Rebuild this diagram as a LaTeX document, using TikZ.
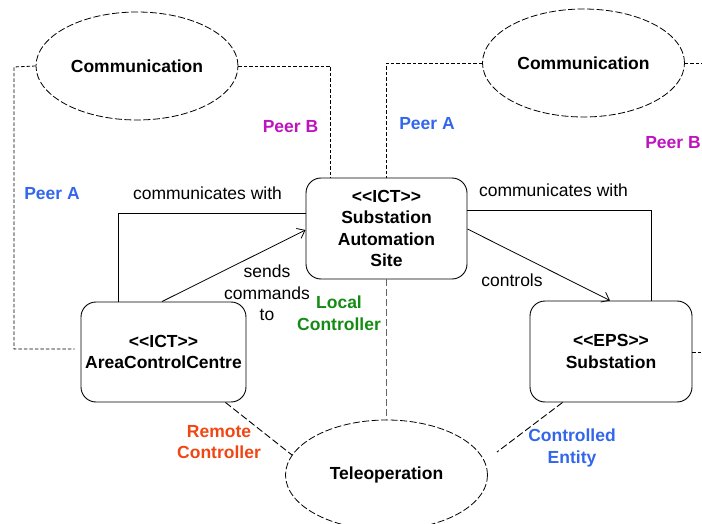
\documentclass[tikz,border=0pt]{standalone}
\usepackage{fontspec}
\setmainfont{Liberation Sans}
\usetikzlibrary{shapes.geometric,arrows.meta}
\definecolor{peerblue}{RGB}{51,102,235}
\definecolor{peermag}{RGB}{190,20,190}
\definecolor{localgreen}{RGB}{20,140,20}
\definecolor{remotered}{RGB}{240,70,20}
% stereotype brackets, kept apart so they are not joined into guillemets
\newcommand{\stereo}[1]{<\kern0pt<#1>\kern0pt>}
\tikzset{
  txt/.style={font=\fontsize{17.5}{21.5}\selectfont, inner sep=1pt, align=center},
  bold/.style={txt, font=\fontsize{17.5}{21.5}\selectfont\bfseries},
  classbox/.style={bold, draw, line width=0.9pt, rounded corners=15pt, inner sep=0pt},
  usecase/.style={bold, ellipse, draw, line width=0.8pt, dash pattern=on 7pt off 2.5pt,
    inner sep=0pt, minimum width=202pt, minimum height=108pt},
  peerlink/.style={line width=0.8pt, dash pattern=on 3.5pt off 2pt},
  rolelink/.style={line width=0.9pt, dash pattern=on 7pt off 3pt},
  assoc/.style={line width=0.8pt},
  tip/.style={-{Straight Barb[length=7pt,width=11pt]}},
}
\begin{document}
\begin{tikzpicture}[x=1pt,y=-1pt]
\useasboundingbox (0,0) rectangle (702,524);

% collaborations
\node[usecase] (comL) at (137,66) {Communication};
\node[usecase] (comR) at (583.5,63) {Communication};
\node[usecase, minimum height=110pt] (tele) at (386.5,475) {Teleoperation};

% classes
\node[classbox, minimum width=161pt, minimum height=101pt] (sas) at (386.5,228.5)
  {\stereo{ICT}\\Substation\\Automation\\Site};
\node[classbox, minimum width=165pt, minimum height=100pt] (acc) at (163.5,352)
  {\stereo{ICT}\\AreaControlCentre};
\node[classbox, minimum width=162pt, minimum height=101pt] (eps) at (611,351.5)
  {\stereo{EPS}\\Substation};

% associations
\draw[assoc] ([yshift=15.5pt]sas.west) -| ([xshift=-45.5pt]acc.north);
\draw[assoc, tip] ([xshift=-1.5pt]acc.north) -- ([yshift=-1.5pt]sas.west);
\draw[assoc] ([yshift=18.5pt]sas.east) -| ([xshift=40pt]eps.north);
\draw[assoc, tip] ([yshift=-0.5pt]sas.east) -- ([xshift=-1pt]eps.north);

\node[txt] (cwL) at (207.5,193) {communicates with};
\node[txt] (cwR) at (553.5,190) {communicates with};
\node[txt] (sends) at (267,293) {sends\\commands\\to};
\node[txt] (ctrl) at (512,280) {controls};

% role bindings of the Communication collaborations
\coordinate (edgeR) at (702,63);
\coordinate (edgeE) at (702,352);
\draw[peerlink] (comL.west) -- (14,67) |- ([xshift=-6pt,yshift=3pt]acc.west);
\draw[peerlink] (comL.east) -| ([xshift=25pt]sas.north west);
\draw[peerlink] (comR.west) -| (sas.north);
\draw[peerlink] (comR.east) -- (edgeR);
\draw[peerlink] ([yshift=-0.5pt]eps.east) -- (edgeE);

\node[bold, text=peerblue] (pA1) at (52,194) {Peer A};
\node[bold, text=peermag] (pB1) at (290.5,127) {Peer B};
\node[bold, text=peerblue] (pA2) at (427,124) {Peer A};
\node[bold, text=peermag] (pB2) at (673,143) {Peer B};

% role bindings of Teleoperation
\coordinate (remEnd) at (292,455);
\coordinate (entEnd) at (497,452);
\draw[rolelink, draw=black!60] (sas.south) -- (tele.north);
\draw[rolelink] ([xshift=-21pt]acc.south east) -- (remEnd);
\draw[rolelink] ([xshift=33pt]eps.south west) -- (entEnd);

\node[bold, text=localgreen] (local) at (339,313) {Local\\Controller};
\node[bold, text=remotered] (remote) at (219,442) {Remote\\Controller};
\node[bold, text=peerblue] (entity) at (572,448) {Controlled\\Entity};
\end{tikzpicture}
\end{document}
